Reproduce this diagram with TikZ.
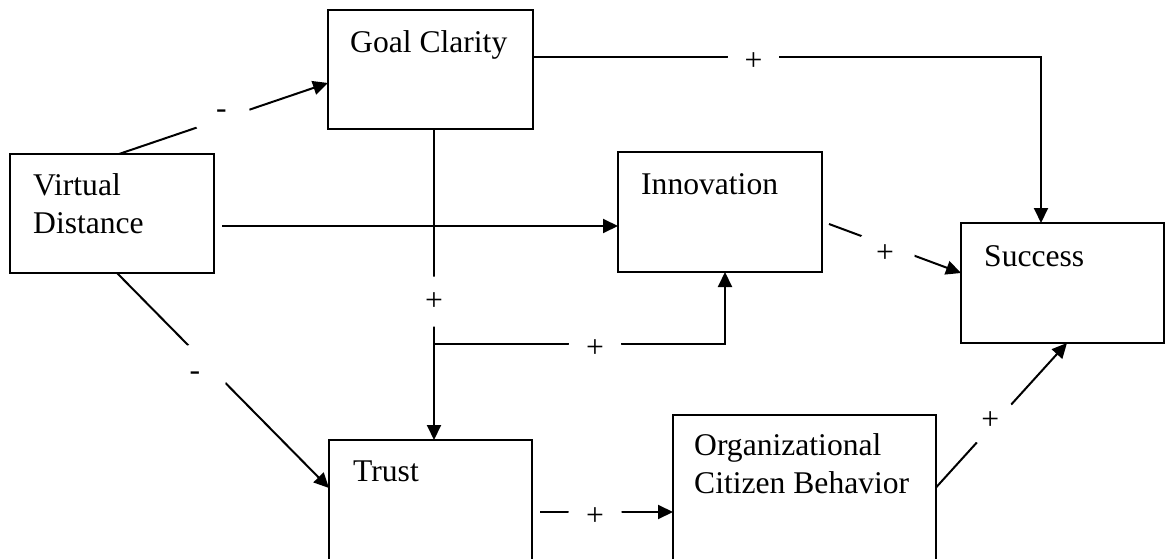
\documentclass[tikz,border=0pt]{standalone}
\usepackage{fontspec}
\setmainfont{Liberation Serif}
\usetikzlibrary{arrows.meta}
\begin{document}
\begin{tikzpicture}[x=1pt,y=-1pt,
  box/.style={draw, line width=2.3pt, inner sep=0pt, outer sep=0pt},
  txt/.style={font=\fontsize{31.6}{38}\selectfont, inner sep=0pt, align=left},
  conn/.style={line width=2pt, -{Triangle[length=15pt,width=14pt]}},
  gap/.style={circle, fill=white, inner sep=0pt, font=\fontsize{31.6}{38}\selectfont}
]
\useasboundingbox (0,0) rectangle (1168,559);

% boxes (Trust and OCB run past the lower edge, as in the reference)
\node[box, minimum width=205pt, minimum height=119pt] (gc) at (430.5,69.5) {};
\node[box, minimum width=204pt, minimum height=119pt] (vd) at (112,213.5) {};
\node[box, minimum width=204pt, minimum height=120pt] (inn) at (720,212) {};
\node[box, minimum width=203pt, minimum height=120pt] (succ) at (1062.5,283) {};
\node[box, minimum width=203pt, minimum height=120pt] (trust) at (430.5,500) {};
\node[box, minimum width=263pt, minimum height=145pt] (ocb) at (804.5,487.5) {};

% texts
\node[txt, anchor=base west] (gct) at (350,52.5) {Goal Clarity};
\node[txt, anchor=north west] (vdt) at (33,173) {Virtual\\Distance};
\node[txt, anchor=base west] (innt) at (641,194.5) {Innovation};
\node[txt, anchor=base west] (succt) at (984,266) {Success};
\node[txt, anchor=base west] (trustt) at (353,481) {Trust};
\node[txt, anchor=north west] (ocbt) at (694,433) {Organizational\\Citizen Behavior};

% connectors
\draw[conn] ([shift={(7,0)}]vd.north) -- node[gap, pos=0.498, xshift=-1.6pt, yshift=4.6pt, minimum size=56.6pt] {-} ([shift={(0,13.5)}]gc.west);
\draw[conn] ([shift={(0,-12.5)}]gc.east) -| node[gap, pos=0.217, yshift=-4.5pt, minimum size=51.8pt] {+} ([shift={(-21.5,0)}]succ.north);
\draw[conn] ([shift={(8,12.5)}]vd.east) -- ([shift={(0,14)}]inn.west);
\draw[conn] ([shift={(3.5,0)}]gc.south) -- node[gap, pos=0.547, yshift=-2.5pt, minimum size=50pt] {+} ([shift={(3.5,0)}]trust.north);
\coordinate (br) at ([shift={(3.5,215)}]gc.south);
\draw[conn] (br) -| node[gap, pos=0.2766, yshift=-5pt, minimum size=53pt] {+} ([shift={(5,0)}]inn.south);
\draw[conn] ([shift={(7,12)}]inn.east) -- node[gap, pos=0.447, xshift=-3pt, yshift=-8.1pt, minimum size=59.2pt] {+} ([shift={(0,-10)}]succ.west);
\draw[conn] ([shift={(5,0)}]vd.south) -- node[gap, pos=0.4243, xshift=-12pt, yshift=-11.8pt, minimum size=62.8pt] {-} ([shift={(0,-12)}]trust.west);
\draw[conn] ([shift={(8,12)}]trust.east) -- node[gap, pos=0.414, yshift=-5pt, minimum size=54pt] {+} ([shift={(0,24.5)}]ocb.west);
\draw[conn] (ocb.east) -- node[gap, pos=0.4417, xshift=-3.5pt, yshift=3.5pt, minimum size=52pt] {+} ([shift={(4.5,0)}]succ.south);
\end{tikzpicture}
\end{document}
